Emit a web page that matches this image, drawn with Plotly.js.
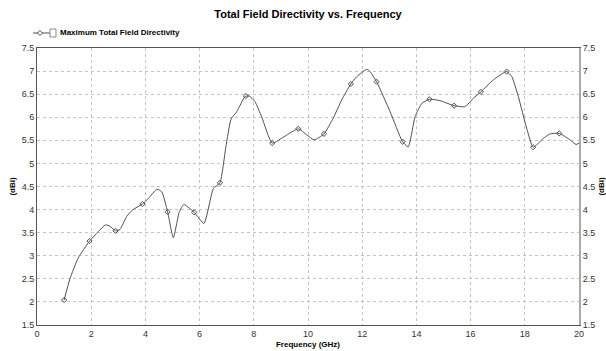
<!DOCTYPE html>
<html>
<head>
<meta charset="utf-8">
<script src="https://cdn.plot.ly/plotly-3.0.1.min.js"></script>
<style>html,body{margin:0;padding:0;background:#fff;}#chart{width:606px;height:351px;}</style>
</head>
<body>
<div id="chart"></div>
<script>
// Dense curve (GHz, dBi)
const freq = [1.0, 1.22, 1.52, 1.94, 2.26, 2.53, 2.69, 2.9, 3.06, 3.31, 3.52, 3.89, 4.11, 4.42, 4.6, 4.82, 5.03, 5.25, 5.42, 5.8, 6.16, 6.51, 6.75, 6.97, 7.16, 7.37, 7.68, 7.83, 8.04, 8.29, 8.68, 9.15, 9.64, 9.95, 10.23, 10.59, 10.93, 11.24, 11.58, 11.8, 12.17, 12.29, 12.53, 13.03, 13.49, 13.7, 13.95, 14.2, 14.48, 14.87, 15.39, 15.79, 16.1, 16.38, 16.84, 17.33, 17.52, 17.76, 18.07, 18.31, 18.68, 18.93, 19.27, 19.67, 19.89, 20.0];
const directivity = [2.04, 2.51, 2.95, 3.32, 3.52, 3.67, 3.64, 3.54, 3.57, 3.85, 3.99, 4.12, 4.24, 4.44, 4.39, 3.95, 3.39, 3.95, 4.11, 3.94, 3.70, 4.46, 4.58, 5.36, 5.96, 6.12, 6.45, 6.46, 6.34, 6.01, 5.44, 5.59, 5.75, 5.62, 5.51, 5.64, 5.98, 6.37, 6.72, 6.88, 7.04, 6.99, 6.77, 6.12, 5.47, 5.36, 6.01, 6.30, 6.39, 6.36, 6.25, 6.23, 6.41, 6.55, 6.81, 6.99, 6.88, 6.45, 5.76, 5.35, 5.54, 5.64, 5.65, 5.51, 5.41, 5.44];
// Marker points
const markerFreq = [1.0, 1.94, 2.9, 3.89, 4.82, 5.8, 6.75, 7.71, 8.68, 9.64, 10.59, 11.58, 12.53, 13.49, 14.48, 15.39, 16.38, 17.33, 18.31, 19.27];
const markerDir = [2.04, 3.32, 3.54, 4.12, 3.95, 3.94, 4.58, 6.46, 5.44, 5.75, 5.64, 6.72, 6.77, 5.47, 6.39, 6.25, 6.55, 6.99, 5.35, 5.65];
const seriesName = "Maximum Total Field Directivity";
const yTicks = [1.5, 2, 2.5, 3, 3.5, 4, 4.5, 5, 5.5, 6, 6.5, 7, 7.5];
const xTicks = [0, 2, 4, 6, 8, 10, 12, 14, 16, 18, 20];

const lineColor = "#505050";
const font = "Liberation Sans, Arial, sans-serif";

const traces = [
  {x: freq, y: directivity, mode: "lines", name: seriesName, line: {color: lineColor, width: 1, shape: "spline", smoothing: 0.5}, showlegend: false, hoverinfo: "skip"},
  {x: markerFreq, y: markerDir, mode: "markers", name: seriesName, marker: {symbol: "diamond-open", size: 4, color: lineColor, line: {width: 1, color: lineColor}}, showlegend: false},
  {x: freq, y: directivity, yaxis: "y2", mode: "lines", opacity: 0, showlegend: false, hoverinfo: "skip"}
];

// legend geometry (paper coords)
const legY = 1.0542;
const layout = {
  width: 606, height: 351,
  margin: {l: 37, r: 27, t: 48, b: 26, pad: 0},
  paper_bgcolor: "#ffffff", plot_bgcolor: "#ffffff",
  font: {family: font, size: 9, color: "#333"},
  title: {text: "<b>Total Field Directivity vs. Frequency</b>", font: {family: font, size: 11, color: "#000"}, x: 0.5, xanchor: "center", xref: "paper", y: 0.96, yanchor: "middle", yref: "container"},
  showlegend: false,
  xaxis: {
    range: [0, 20], tickvals: xTicks, ticktext: xTicks.map(String), showgrid: true, gridcolor: "#c4c4c4", griddash: "dot", gridwidth: 1,
    zeroline: false, showline: true, linecolor: "#555", linewidth: 1, mirror: true, ticks: "",
    tickfont: {size: 9, color: "#333"},
    title: {text: "<b>Frequency (GHz)</b>", font: {size: 8, color: "#000"}, standoff: 3}
  },
  yaxis: {
    range: [1.5, 7.5], tickvals: yTicks, ticktext: yTicks.map(String), showgrid: true, gridcolor: "#c4c4c4", griddash: "dot", gridwidth: 1,
    zeroline: false, showline: true, linecolor: "#555", linewidth: 1, ticks: "",
    tickfont: {size: 9, color: "#333"},
    title: {text: "<b>(dBi)</b>", font: {size: 8, color: "#000"}, standoff: 4}
  },
  yaxis2: {
    range: [1.5, 7.5], tickvals: yTicks, ticktext: yTicks.map(String), overlaying: "y", side: "right", showgrid: false,
    zeroline: false, showline: true, linecolor: "#aaa", linewidth: 2, ticks: "",
    tickfont: {size: 9, color: "#333"},
    title: {text: "<b>(dBi)</b>", font: {size: 8, color: "#000"}, standoff: 6}
  },
  shapes: [
    {type: "line", xref: "paper", yref: "paper", x0: -0.0074, x1: 0.024, y0: legY, y1: legY, line: {color: lineColor, width: 1}},
    {type: "path", xref: "paper", yref: "paper", xsizemode: "pixel", ysizemode: "pixel", xanchor: 0.0055, yanchor: legY, path: "M0,2.5L2.5,0L0,-2.5L-2.5,0Z", fillcolor: "#fff", line: {color: lineColor, width: 1}},
    {type: "rect", xref: "paper", yref: "paper", x0: 0.024, x1: 0.035, y0: 1.0397, y1: 1.0686, line: {color: "#888", width: 1}, fillcolor: "#fff"}
  ],
  annotations: [
    {text: "<b>" + seriesName + "</b>", xref: "paper", yref: "paper", x: 0.0387, y: legY, xanchor: "left", yanchor: "middle", showarrow: false, font: {family: font, size: 8, color: "#000"}}
  ]
};

Plotly.newPlot("chart", traces, layout, {displayModeBar: false, staticPlot: true});
</script>
</body>
</html>
